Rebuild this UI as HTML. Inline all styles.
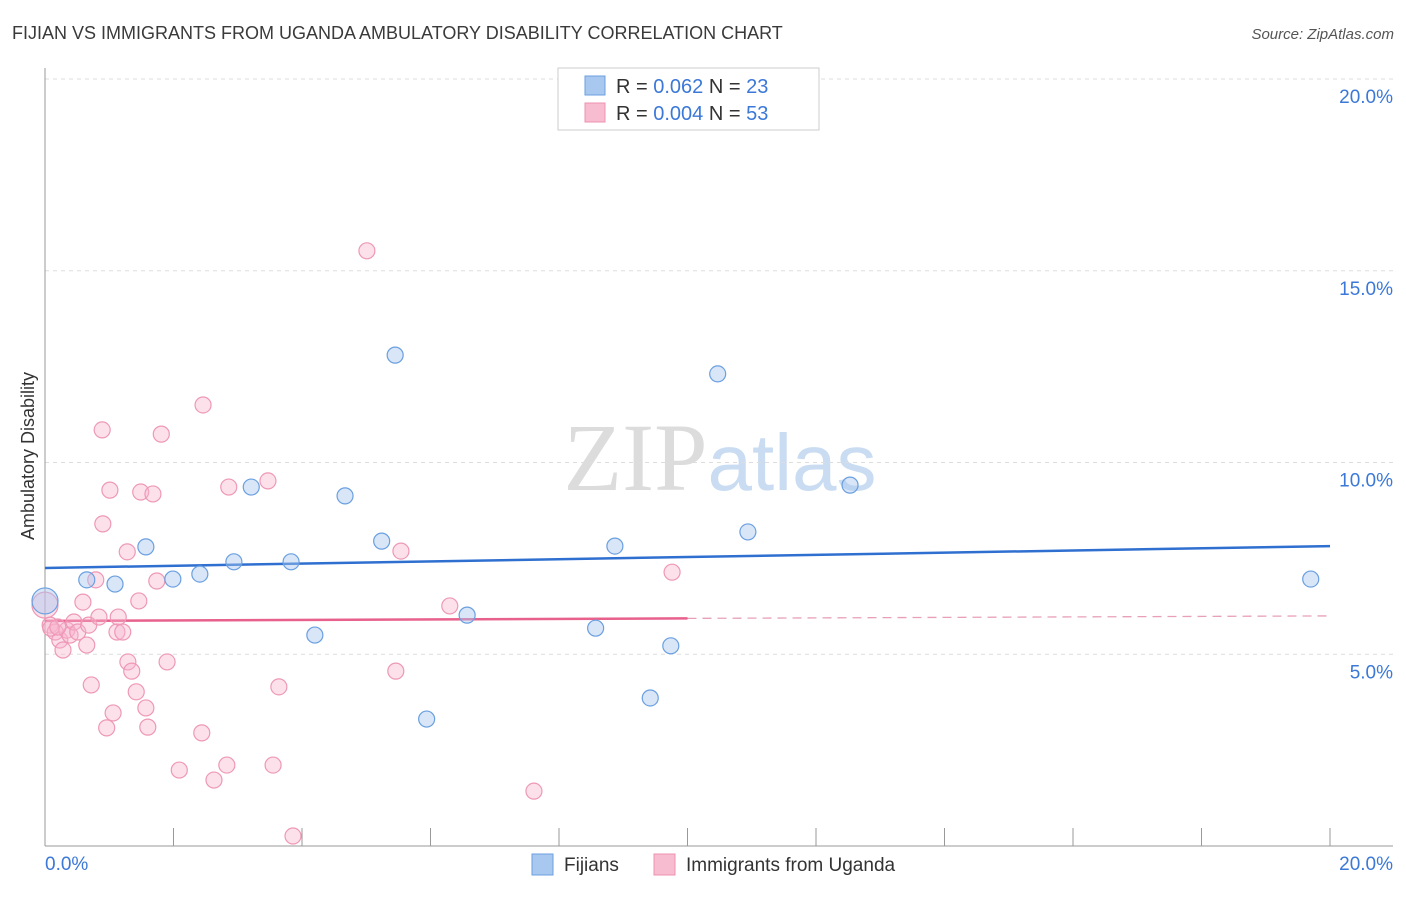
<!DOCTYPE html>
<html><head><meta charset="utf-8"><style>
body{margin:0;background:#fff;font-family:"Liberation Sans",sans-serif;}
svg text{font-family:"Liberation Sans",sans-serif;}
</style></head><body>
<svg id="chart" width="1406" height="892" xmlns="http://www.w3.org/2000/svg">
<text x="12" y="39" font-size="18" fill="#3a3a3a">FIJIAN VS IMMIGRANTS FROM UGANDA AMBULATORY DISABILITY CORRELATION CHART</text>
<text x="1394" y="39" font-size="15" fill="#555" text-anchor="end" font-style="italic">Source: ZipAtlas.com</text>
<text x="720" y="490" font-size="96" text-anchor="middle" fill="#e4e4e4"><tspan font-family="Liberation Serif" fill="#dcdcdc">ZIP</tspan><tspan fill="#c9dcf2" font-size="80">atlas</tspan></text>
<text transform="translate(34,456) rotate(-90)" font-size="18" fill="#333" text-anchor="middle">Ambulatory Disability</text>
<g id="grid"></g><g id="axes"></g><g id="trends"></g><g id="points"></g>
<g>
<rect x="558" y="68" width="261" height="62" fill="#fff" stroke="#ccc"/>
<rect x="585" y="76" width="20" height="19" fill="#a9c8f0" stroke="#6a9fe0"/>
<text x="616" y="93" font-size="20" fill="#333">R = <tspan fill="#3b78d8">0.062</tspan>   N = <tspan fill="#3b78d8">23</tspan></text>
<rect x="585" y="103" width="20" height="19" fill="#f8bcd0" stroke="#ee90b0"/>
<text x="616" y="120" font-size="20" fill="#333">R = <tspan fill="#3b78d8">0.004</tspan>   N = <tspan fill="#3b78d8">53</tspan></text>
</g>
<g>
<rect x="532" y="854" width="21" height="21" fill="#a9c8f0" stroke="#6a9fe0"/>
<text x="564" y="871" font-size="19" fill="#333">Fijians</text>
<rect x="654" y="854" width="21" height="21" fill="#f8bcd0" stroke="#ee90b0"/>
<text x="686" y="871" font-size="19" fill="#333">Immigrants from Uganda</text>
</g>
</svg>
<script>
const yTicks=[5,10,15,20];
const yTickLabels=["5.0%","10.0%","15.0%","20.0%"];
const xTickLabels=["0.0%","20.0%"];
const fijianX=[0,0.65,1.09,1.57,1.99,2.41,2.94,3.21,3.83,4.20,4.67,5.24,5.45,5.94,6.57,8.57,8.87,9.42,9.74,10.47,10.94,12.53,19.70];
const fijianY=[6.39,6.94,6.83,7.80,6.96,7.09,7.41,9.36,7.41,5.50,9.13,7.95,12.80,3.31,6.02,5.68,7.82,3.86,5.22,12.31,8.19,9.41,6.96];
const ugandaX=[0,0.08,0.16,0.23,0.28,0.34,0.39,0.45,0.51,0.59,0.65,0.68,0.72,0.79,0.84,0.89,0.90,0.96,1.01,1.06,1.12,1.14,1.21,1.28,1.29,1.35,1.42,1.46,1.49,1.57,1.60,1.68,1.74,1.81,1.90,2.09,2.44,2.46,2.63,2.83,2.86,3.47,3.55,3.64,3.86,5.01,5.46,5.54,6.30,7.61,9.76,0.09,0.20];
const ugandaY=[6.28,5.76,5.58,5.37,5.11,5.63,5.50,5.84,5.58,6.36,5.24,5.76,4.20,6.94,5.97,10.85,8.40,3.08,9.28,3.47,5.58,5.97,5.58,7.67,4.80,4.56,4.02,6.39,9.23,3.60,3.10,9.18,6.91,10.74,4.80,1.98,2.95,11.50,1.72,2.11,9.36,9.52,2.11,4.15,0.26,15.52,4.56,7.69,6.26,1.43,7.14,5.68,5.71];
const fijianTrend=[7.25,7.82];
const ugandaTrend=[5.87,6.0];
const NS="http://www.w3.org/2000/svg";
const X=v=>45+v/20*1285, Y=v=>846-v/20*767;
function mk(tag,attrs,parent){const e=document.createElementNS(NS,tag);for(const k in attrs)e.setAttribute(k,attrs[k]);document.getElementById(parent).appendChild(e);return e;}
yTicks.forEach((t,i)=>{
 const g=mk('line',{x1:45,x2:1393,y1:Y(t),y2:Y(t),stroke:'#ddd','stroke-dasharray':'4,4'},'grid');
 
 
 const l=mk('text',{x:1393,y:Y(t)+24,'font-size':19,fill:'#3b78d8','text-anchor':'end'},'grid');
 l.textContent=yTickLabels[i];
 
 
});
mk('line',{x1:45,x2:45,y1:68,y2:846,stroke:'#999'},'axes');
mk('line',{x1:45,x2:1393,y1:846,y2:846,stroke:'#999'},'axes');
for(let i=0;i<=10;i++){
 const t=mk('line',{x1:X(i*2),x2:X(i*2),y1:828,y2:846,stroke:'#999'},'axes');
 
 
}
[[0,'start',45],[20,'end',1393]].forEach((d,i)=>{
 const l=mk('text',{x:d[2],y:870,'font-size':19,fill:'#3b78d8','text-anchor':d[1]},'axes');
 l.textContent=xTickLabels[i];
 
 
});
let tl=mk('line',{x1:X(0),y1:Y(fijianTrend[0]),x2:X(20),y2:Y(fijianTrend[1]),stroke:'#2f6fd0','stroke-width':2.5},'trends');


const um=ugandaTrend[0]+(ugandaTrend[1]-ugandaTrend[0])*0.5;
tl=mk('line',{x1:X(0),y1:Y(ugandaTrend[0]),x2:X(10),y2:Y(um),stroke:'#e8608c','stroke-width':2.5},'trends');


tl=mk('line',{x1:X(10),y1:Y(um),x2:X(20),y2:Y(ugandaTrend[1]),stroke:'#e8a0b8','stroke-width':1.3,'stroke-dasharray':'9,6'},'trends');


ugandaX.forEach((x,i)=>{
 const c=mk('circle',{cx:X(x),cy:Y(ugandaY[i]),r:i==0?13:8,fill:'rgba(248,180,204,0.4)',stroke:'#ee98b6','stroke-width':1.2},'points');
 
 
});
fijianX.forEach((x,i)=>{
 const c=mk('circle',{cx:X(x),cy:Y(fijianY[i]),r:i==0?13:8,fill:'rgba(169,200,240,0.45)',stroke:'#6a9fe0','stroke-width':1.2},'points');
 
 
});
</script>
</body></html>
